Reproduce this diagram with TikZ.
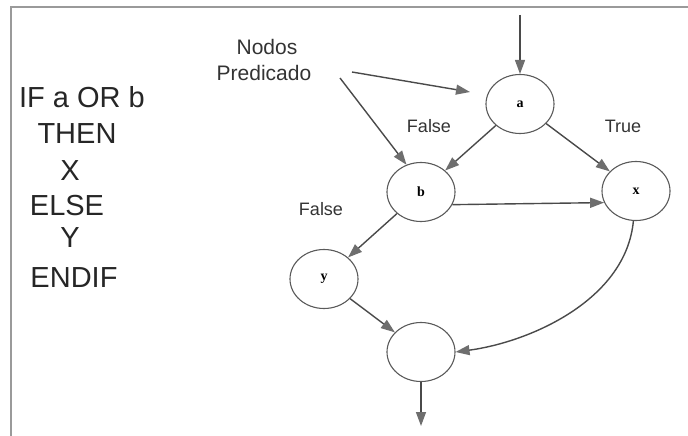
\documentclass[tikz,border=0pt]{standalone}
\usepackage{fontspec}
\setmainfont{Liberation Sans}
\newfontfamily\serifnode{Liberation Serif}
\usetikzlibrary{arrows.meta,shapes.geometric}
\definecolor{linec}{HTML}{4A4A4A}
\definecolor{tipc}{HTML}{6E6E6E}
\definecolor{circc}{HTML}{5A5A5A}
\definecolor{framec}{HTML}{9A9A9A}
\begin{document}
\begin{tikzpicture}[x=1pt,y=-1pt,
  vnode/.style={ellipse,draw=circc,line width=1.1pt,minimum width=68pt,minimum height=59pt,inner sep=0pt,
     font=\serifnode\bfseries\fontsize{14}{14}\selectfont},
  code/.style={anchor=base,inner sep=0pt,font=\fontsize{29}{29}\selectfont,text=black!85},
  lbl/.style={anchor=base,inner sep=0pt,font=\fontsize{18}{18}\selectfont,text=black!80},
  plbl/.style={anchor=base,inner sep=0pt,font=\fontsize{21}{21}\selectfont,text=black!80},
  conn/.style={draw=linec,line width=1.4pt,-{Triangle[length=14pt,width=10pt,color=tipc]}},
  frame/.style={draw=framec,line width=2pt}]
\useasboundingbox (0,0) rectangle (688,436);
% frame
\draw[frame] (10.5,436) -- (10.5,7.5) -- (688,7.5);
% code text
\node[code] (c1) at (82,107) {IF a OR b};
\node[code] (c2) at (77,143) {THEN};
\node[code] (c3) at (70,180) {X};
\node[code] (c4) at (67,215) {ELSE};
\node[code] (c5) at (70,247) {Y};
\node[code] (c6) at (74,287) {ENDIF};
% graph nodes
\node[vnode] (a) at (520,104) {a};
\node[vnode] (b) at (421,192) {b};
\node[vnode] (x) at (636,191) {x};
\node[vnode] (y) at (324,279) {y};
\node[vnode] (e) at (421,352) {};
% labels
\node[plbl] (p1) at (267,55) {Nodos};
\node[plbl] (p2) at (264,81) {Predicado};
\node[lbl] (fa) at (429,132) {False};
\node[lbl] (tr) at (623,132) {True};
\node[lbl] (fb) at (321,215) {False};
% coordinates
\coordinate (in) at (520,15);
\coordinate (out) at (421,426);
\coordinate (ps1) at (352,72);
\coordinate (pe1) at (470,92);
\coordinate (ps2) at (340,78);
% edges
\draw[conn] (in) -- (a.north);
\draw[conn] (ps1) -- (pe1);
\draw[conn] (ps2) -- (b.118);
\draw[conn] (a) -- (b);
\draw[conn] (a) -- (x);
\draw[conn] (b.-22) -- (x.200);
\draw[conn] (b) -- (y);
\draw[conn] (y) -- (e);
\draw[conn] (x.-95) .. controls (626,300) and (530,342) .. (e.east);
\draw[conn] (e.south) -- (out);
\end{tikzpicture}
\end{document}
